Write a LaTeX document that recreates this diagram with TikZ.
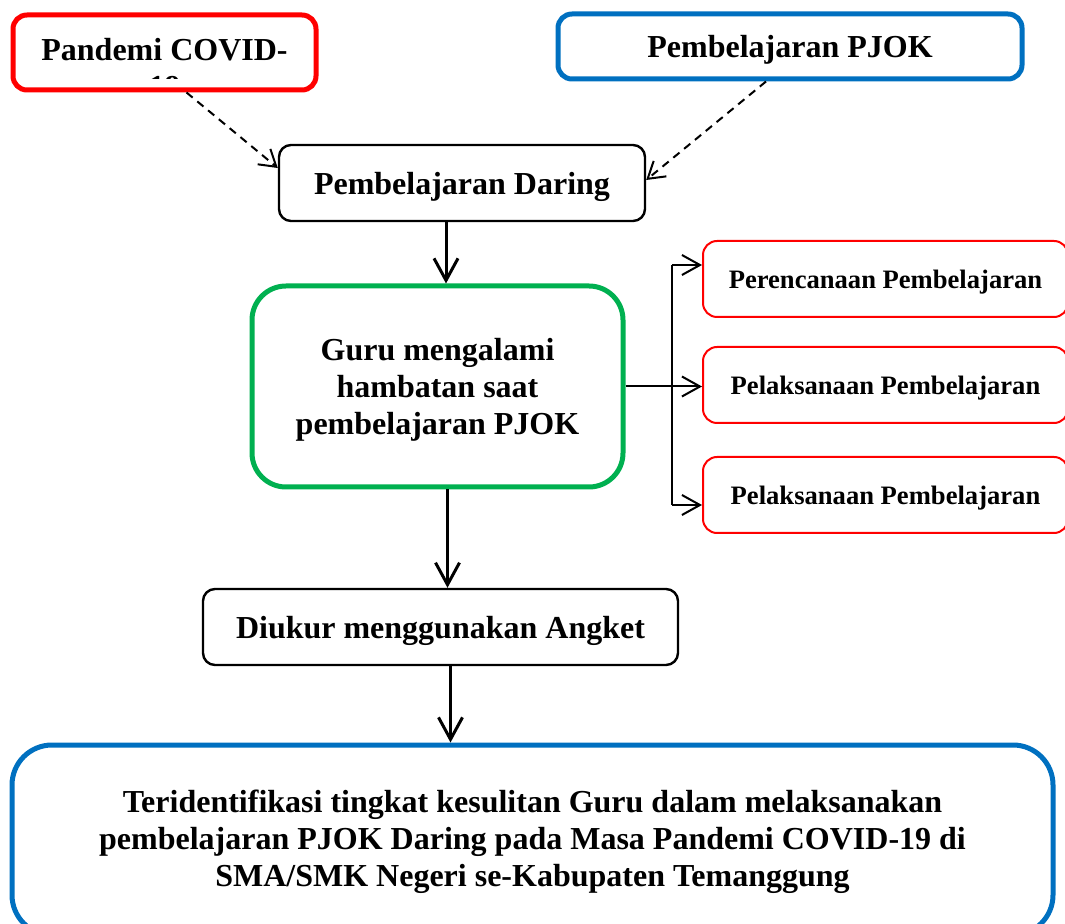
\documentclass[tikz,border=0pt]{standalone}
\usepackage{fontspec}
\setmainfont{Liberation Serif}
\usetikzlibrary{arrows.meta}
\definecolor{redline}{RGB}{255,0,0}
\definecolor{blueline}{RGB}{0,112,192}
\definecolor{greenline}{RGB}{0,176,80}

\begin{document}
\begin{tikzpicture}[x=0.5pt,y=-0.5pt,
    font=\fontsize{16}{18.5}\selectfont\bfseries]

        \useasboundingbox (0,0) rectangle (1065,924);

        \begin{scope}[every node/.style={draw,align=center,text depth=0pt,inner sep=0pt}]
          \node[draw=redline,line width=2.5pt,rounded corners=7pt,minimum width=151.5pt,minimum height=37.5pt] (1) at (164.5,52.5) {};
          \node[draw=blueline,line width=2.5pt,rounded corners=7pt,minimum width=232pt,minimum height=32.5pt] (2) at (790,46.5) {Pembelajaran PJOK};
          \node[line width=1.2pt,rounded corners=6pt,minimum width=183pt,minimum height=38pt,text depth=-1.5pt] (3) at (462,183) {Pembelajaran Daring};
          \node[draw=greenline,line width=2.5pt,rounded corners=17pt,minimum width=185.5pt,minimum height=100.5pt,text depth=-5pt] (4) at (437.5,386.5) {Guru mengalami\\hambatan saat\\pembelajaran PJOK};
          \node[line width=1.2pt,rounded corners=6pt,minimum width=237.5pt,minimum height=38pt] (5) at (440.5,627) {Diukur menggunakan Angket};
          \node[draw=blueline,line width=2.5pt,rounded corners=20pt,minimum width=520.5pt,minimum height=95pt,text depth=1.5pt] (9) at (532.5,840) {Teridentifikasi tingkat kesulitan Guru dalam melaksanakan\\pembelajaran PJOK Daring pada Masa Pandemi COVID-19 di\\SMA/SMK Negeri se-Kabupaten Temanggung};
        \end{scope}

        \begin{scope}[every node/.style={draw=redline,line width=1pt,rounded corners=7pt,minimum width=182.5pt,minimum height=38pt,text depth=0pt,inner sep=0pt,font=\fontsize{13.3}{16}\selectfont\bfseries}]
          \node (6) at (885.5,279) {Perencanaan Pembelajaran};
          \node (7) at (885.5,385) {Pelaksanaan Pembelajaran};
          \node (8) at (885.5,495) {Pelaksanaan Pembelajaran};
        \end{scope}

        % text of the first box, cut off at its lower edge
        \begin{scope}
          \clip (1.north west) rectangle (316,79);
          \node[align=center,text depth=0pt,inner sep=0pt] (1a) at (164.5,67.5) {Pandemi COVID-\\19};
        \end{scope}

        \coordinate (c) at ([xshift=-8pt]3.south);
        \coordinate (a) at ([xshift=5pt]4.south);
        \coordinate (b) at ([xshift=5pt]5.south);
        \coordinate (t) at (672,265);
        \coordinate (u) at (672,505);

        \begin{scope}[every edge/.style={draw,line width=1.5pt,-{Straight Barb[length=11pt,width=12pt]}}]
          \path (c) edge (c |- 4.north);
          \path (a) edge (a |- 5.north);
          \path (b) edge (b |- 9.north);
        \end{scope}

        \begin{scope}[every edge/.style={draw,line width=1pt,dash pattern=on 4pt off 3pt,-{Straight Barb[length=8pt,width=10pt]}}]
          \path ([xshift=11pt]1.south) edge ([yshift=7.5pt]3.west);
          \path ([xshift=-12pt]2.south) edge ([yshift=1.5pt]3.east);
        \end{scope}

        \draw[line width=1pt] (t) -- (u);
        \draw[line width=1pt] (4.east) -- (4.east -| t);
        \begin{scope}[every edge/.style={draw,line width=1pt,-{Straight Barb[length=9pt,width=10pt]}}]
          \path (t) edge (t -| 6.west);
          \path (4.east -| t) edge (4.east -| 7.west);
          \path (u) edge (u -| 8.west);
        \end{scope}

      \end{tikzpicture}
\end{document}
